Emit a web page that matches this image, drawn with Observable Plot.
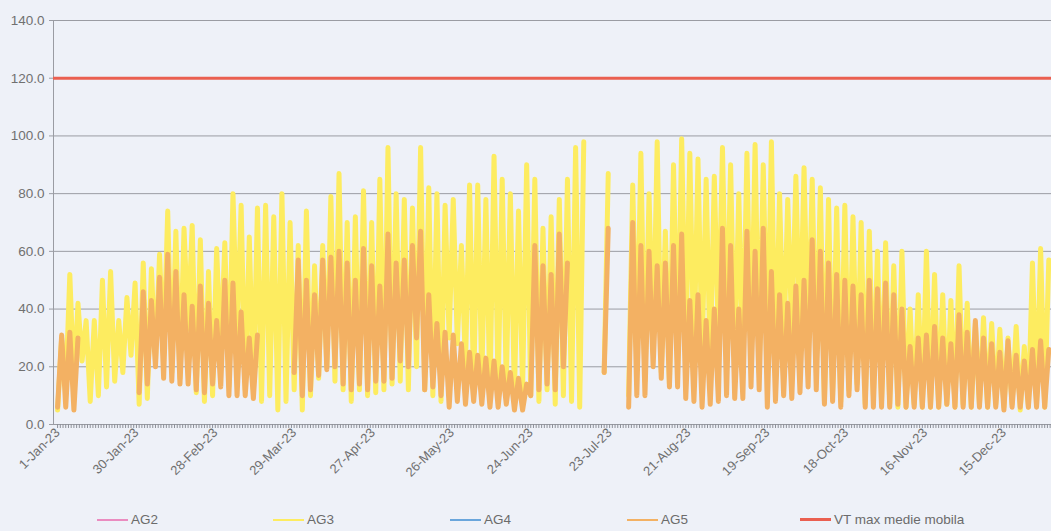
<!DOCTYPE html>
<html><head><meta charset="utf-8">
<script src="https://cdn.jsdelivr.net/npm/d3@7"></script>
<script src="https://cdn.jsdelivr.net/npm/@observablehq/plot@0.6"></script>
<style>
body{margin:0;background:#eef1f8;width:1051px;height:531px;overflow:hidden;font-family:"Liberation Sans",Arial,sans-serif}
#chart{position:absolute;left:0;top:0}
#legend{position:absolute;left:0;top:510px;width:1051px;height:21px;font-size:13.5px;color:#6b6b6b}
.item{position:absolute;top:2px;display:flex;align-items:center;white-space:nowrap}
.sw{display:inline-block;width:31px;height:2px;margin-right:3px}
</style></head><body>
<div id="chart"></div><div id="legend"></div>
<script>
// each entry = one 3-day bin (upper and lower envelope)
const binDays = 3;
const ag3Hi = [
 30,52,42,36,36,50,53,36,44,49,
 56,54,59,74,67,68,69,64,53,61,
 63,80,76,65,75,76,72,80,70,62,
 74,55,62,79,87,70,72,81,70,85,
 96,80,78,75,96,82,80,76,78,62,
 83,83,78,93,85,80,74,90,85,68,
 72,78,85,96,98,null,null,87,null,null,
 83,94,80,98,67,90,99,94,92,85,
 86,96,90,80,94,97,90,98,80,78,
 86,89,85,82,78,75,76,72,70,67,
 60,63,55,60,40,45,60,52,45,43,
 55,42,35,37,35,33,30,34,27,56,
 61,57];
const ag3Lo = [
 5,12,14,22,8,10,13,15,18,24,
 7,9,22,24,18,16,33,11,8,10,
 24,13,30,12,12,8,10,5,8,12,
 5,10,16,20,15,12,8,12,10,11,
 12,14,15,12,20,12,10,8,30,28,
 20,12,16,10,12,14,10,12,10,8,
 12,7,10,8,6,null,null,18,null,null,
 10,20,15,25,18,14,20,25,22,24,
 20,30,28,20,22,21,18,22,18,25,
 31,28,25,20,8,10,8,12,14,7,
 10,8,7,6,6,7,6,6,6,7,
 6,7,6,7,6,7,6,7,5,6,
 8,6];
const ag5Hi = [
 31,32,30,null,null,null,null,null,null,null,
 46,43,51,59,53,45,41,48,42,36,
 50,49,39,30,31,null,null,null,null,57,
 50,45,57,58,60,56,50,61,55,48,
 66,56,57,62,67,45,35,32,31,28,
 25,24,23,22,20,18,16,14,62,55,
 52,66,56,null,null,null,null,68,null,null,
 70,62,60,55,56,62,66,43,45,36,
 40,68,62,40,67,60,68,53,45,42,
 48,50,64,60,56,52,50,48,45,50,
 47,49,45,40,27,30,31,34,30,28,
 38,32,36,30,28,25,29,24,22,26,
 29,26];
const ag5Lo = [
 6,6,5,null,null,null,null,null,null,null,
 11,14,20,16,15,14,14,12,11,14,
 13,10,10,10,9,null,null,null,null,18,
 10,12,17,19,20,14,12,14,12,15,
 15,16,22,20,30,12,13,10,6,8,
 7,8,7,6,6,7,5,5,10,12,
 14,12,20,null,null,null,null,18,null,null,
 6,10,10,20,16,13,13,9,8,6,
 7,8,10,9,9,13,12,6,8,10,
 9,11,13,12,7,8,6,10,12,6,
 6,6,6,7,6,6,6,6,6,7,
 6,6,6,6,6,6,5,6,6,6,
 6,6];
const vtMax = 120;
const labelDays = [0,29,58,87,116,145,174,203,232,261,290,319,348];
const dateLabels = ["1-Jan-23","30-Jan-23","28-Feb-23","29-Mar-23","27-Apr-23","26-May-23","24-Jun-23","23-Jul-23","21-Aug-23","19-Sep-23","18-Oct-23","16-Nov-23","15-Dec-23"];
const yTicks = [0,20,40,60,80,100,120,140];
const seriesNames = ["AG2","AG3","AG4","AG5","VT max medie mobila"];
const seriesColors = ["#ea8cc0","#fdec60","#6aa6dc","#f3b163","#ea5f50"];

function zig(hi, lo){
  const out = [];
  hi.forEach((h,k)=>{
    out.push({d:k*binDays, v:lo[k]});
    out.push({d:k*binDays+binDays/2, v:h});
  });
  return out;
}
const labelMap = new Map(labelDays.map((d,i)=>[d,dateLabels[i]]));

const chart = Plot.plot({
  width:1051, height:505,
  marginLeft:53, marginRight:0, marginTop:20, marginBottom:81,
  style:{background:"transparent", fontFamily:"'Liberation Sans',Arial,sans-serif", fontSize:"13px", color:"#707070"},
  x:{domain:[-1.5,365.5], axis:null},
  y:{domain:[0,140], axis:null},
  marks:[
    Plot.gridY(yTicks,{stroke:"#9a9ca3", strokeOpacity:1, strokeWidth:1}),
    Plot.axisY({ticks:yTicks, tickFormat:d=>d.toFixed(1), tickSize:4, tickPadding:5, stroke:"#9a9ca3", fontSize:13.5, label:null}),
    Plot.ruleX([-1.5],{stroke:"#9a9ca3"}),
    Plot.line(zig(ag3Hi, ag3Lo),{x:"d", y:"v", stroke:seriesColors[1], strokeWidth:5, strokeLinejoin:"round"}),
    Plot.line(zig(ag5Hi, ag5Lo),{x:"d", y:"v", stroke:seriesColors[3], strokeWidth:5, strokeLinejoin:"round"}),
    Plot.ruleY([vtMax],{stroke:seriesColors[4], strokeWidth:3}),
    Plot.axisX({ticks:d3.range(0,366,1), tickSize:4, tickFormat:()=>"", stroke:"#8d9098", label:null}),
    Plot.axisX({ticks:labelDays, tickSize:0, tickPadding:6, tickRotate:-45, tickFormat:d=>labelMap.get(d), fontSize:13, label:null})
  ]
});
document.getElementById("chart").appendChild(chart);

const legendX = [97,273,450,627,800];
const leg = document.getElementById("legend");
seriesNames.forEach((n,i)=>{
  const it = document.createElement("div");
  it.className="item"; it.style.left = legendX[i]+"px";
  const sw = document.createElement("span"); sw.className="sw";
  sw.style.background = seriesColors[i];
  if(i===4){sw.style.height="3px";}
  it.appendChild(sw);
  it.appendChild(document.createTextNode(n));
  leg.appendChild(it);
});
</script>
</body></html>
